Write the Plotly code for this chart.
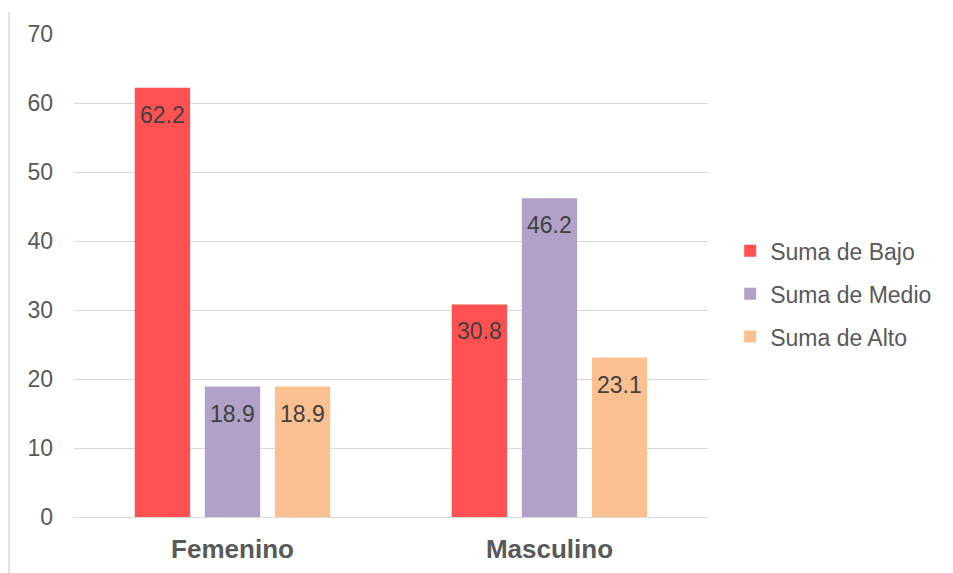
import plotly.graph_objects as go

categories = ["Femenino", "Masculino"]
series_names = ["Suma de Bajo", "Suma de Medio", "Suma de Alto"]
bajo = [62.2, 30.8]
medio = [18.9, 46.2]
alto = [18.9, 23.1]
y_ticks = [0, 10, 20, 30, 40, 50, 60, 70]

colors = ["#FF5152", "#B1A0C7", "#FAC090"]
font_family = "Liberation Sans, Arial, sans-serif"

plot_w = 953 - 74 - 245
bargap = 0.337
slot_px = plot_w / len(categories) * (1 - bargap) / len(series_names)

fig = go.Figure()
annotations = []
for i, (name, vals, col) in enumerate(zip(series_names, [bajo, medio, alto], colors)):
    fig.add_trace(go.Bar(
        x=categories, y=vals, name=name,
        marker=dict(color=col, line=dict(width=0)),
        legendgroup=f"g{i}",
    ))
    # value labels sitting just inside the top of each bar
    for cat, v in zip(categories, vals):
        annotations.append(dict(
            x=cat, y=v, xref="x", yref="y",
            text=f"{v:.1f}", showarrow=False,
            xshift=(i - 1) * slot_px, yshift=-12, yanchor="top",
            font=dict(color="#404040", size=23, family=font_family),
        ))

fig.update_layout(
    width=953, height=573,
    margin=dict(l=74, r=245, t=34, b=56, autoexpand=False),
    paper_bgcolor="white", plot_bgcolor="white",
    barmode="group", bargap=bargap, bargroupgap=0.21,
    font=dict(family=font_family, color="#595959", size=23),
    legend=dict(
        x=1.035, y=0.462, xanchor="left", yanchor="middle",
        font=dict(size=23, color="#595959"),
        tracegroupgap=10, itemwidth=30,
    ),
    xaxis=dict(
        showgrid=False, showline=False, ticks="",
        tickfont=dict(size=26, color="#595959", family=font_family, weight="bold"),
        ticklabelstandoff=14, automargin=False,
    ),
    yaxis=dict(
        range=[0, 70], tickvals=y_ticks,
        showgrid=True, gridcolor="#D9D9D9", gridwidth=1,
        zeroline=True, zerolinecolor="#D9D9D9", zerolinewidth=1,
        showline=False, ticks="",
        tickfont=dict(size=23, color="#595959"),
        ticklabelstandoff=20, automargin=False,
    ),
    annotations=annotations,
    shapes=[dict(
        type="line", xref="paper", yref="paper",
        x0=-65 / 634, x1=-65 / 634, y0=-56 / 483, y1=(483 + 22) / 483,
        line=dict(color="#D9D9D9", width=1.5),
    )],
)

fig.write_html("out.html")
